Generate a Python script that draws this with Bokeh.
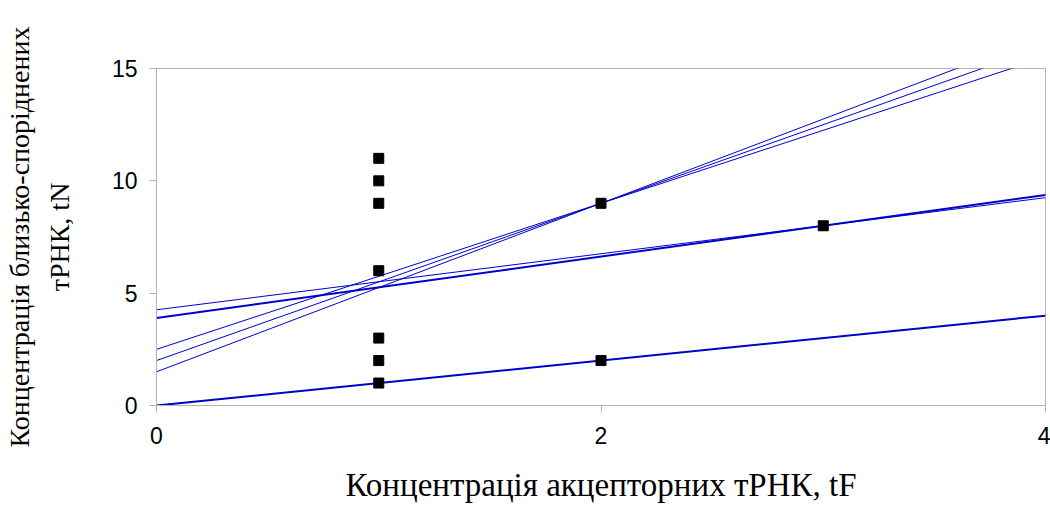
from bokeh.plotting import figure
from bokeh.models import Range1d, FixedTicker, LinearAxis
from bokeh.embed import file_html
from bokeh.resources import INLINE

# scatter data
pt_x = [1, 1, 1, 1, 1, 1, 1, 2, 2, 3]
pt_y = [1, 2, 3, 6, 9, 10, 11, 2, 9, 8]

# lines (value at x=0 and x=4)
line_x0 = [0, 0, 0, 0, 0, 0]
line_x1 = [4, 4, 4, 4, 4, 4]
line_y0 = [0.0, 3.89, 4.26, 2.5, 2.0, 1.5]
line_y1 = [4.0, 9.37, 9.25, 15.5, 16.0, 16.5]
line_w = [2, 2, 1, 1, 1, 1]

x_ticks = [0, 2, 4]
y_ticks = [0, 5, 10, 15]

x_title = "Концентрація акцепторних тРНК, tF"
y_title_1 = "Концентрація близько-споріднених"
y_title_2 = "тРНК, tN"

GRAY = "#b3b3b3"
BLUE = "#0000cc"

p = figure(width=1050, height=512, output_backend="svg", toolbar_location=None,
           x_range=Range1d(0, 4), y_range=Range1d(0, 15),
           min_border_left=150, min_border_top=68, min_border_right=5, min_border_bottom=107)
p.grid.visible = False
p.outline_line_color = GRAY
p.outline_line_width = 1
p.background_fill_color = "white"
p.border_fill_color = "white"

for x0, x1, y0, y1, w in zip(line_x0, line_x1, line_y0, line_y1, line_w):
    p.line([x0, x1], [y0, y1], line_color=BLUE, line_width=w)

p.scatter(pt_x, pt_y, marker="square", size=10, fill_color="black", line_color="black")

for ax in (p.xaxis[0], p.yaxis[0]):
    ax.axis_line_color = GRAY
    ax.major_tick_line_color = GRAY
    ax.minor_tick_line_color = None
    ax.major_tick_out = 7
    ax.major_tick_in = 0
    ax.major_label_text_font = "Liberation Sans"
    ax.major_label_text_font_size = "23px"
    ax.major_label_text_color = "black"
    ax.axis_label_text_font = "Liberation Serif"
    ax.axis_label_text_font_style = "normal"
    ax.axis_label_text_color = "black"

p.xaxis[0].major_label_standoff = 14
p.yaxis[0].major_label_standoff = 12
p.xaxis[0].ticker = FixedTicker(ticks=x_ticks)
p.yaxis[0].ticker = FixedTicker(ticks=y_ticks)

p.xaxis[0].axis_label = x_title
p.xaxis[0].axis_label_text_font_size = "33px"
p.xaxis[0].axis_label_standoff = 20

p.yaxis[0].axis_label = y_title_2
p.yaxis[0].axis_label_text_font_size = "28px"
p.yaxis[0].axis_label_standoff = 34

# outer axis carrying only the first line of the y title
outer = LinearAxis(ticker=FixedTicker(ticks=[]), axis_line_color=None,
                   major_tick_line_color=None, minor_tick_line_color=None,
                   axis_label=y_title_1, axis_label_text_font="Liberation Serif",
                   axis_label_text_font_size="28px", axis_label_text_font_style="normal",
                   axis_label_text_color="black", axis_label_standoff=6)
p.add_layout(outer, "left")

open("out.html", "w").write(file_html(p, INLINE))
